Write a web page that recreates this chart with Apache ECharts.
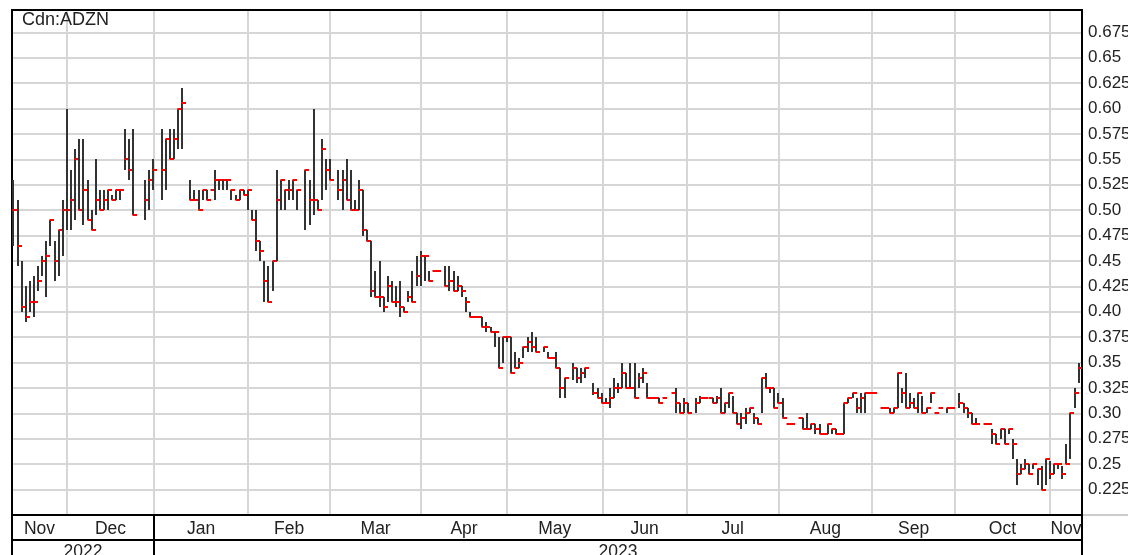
<!DOCTYPE html>
<html><head><meta charset="utf-8">
<script src="https://cdn.jsdelivr.net/npm/echarts@6/dist/echarts.min.js"></script>
<style>html,body{margin:0;padding:0;background:#fff;overflow:hidden}#c{width:1128px;height:555px}</style>
</head><body><div id="c"></div>
<script>
const chartTitle = 'Cdn:ADZN';
// one slot per weekday, 14 Nov 2022 (slot 0) .. 10 Nov 2023 (slot 259); null = no trade
const high = [
.53,.51,.45,.425,.43,.435,.445,.455,.47,.49,
.47,.48,.51,.60,.54,.56,.57,.57,.53,.50,
.55,.52,.52,.52,.515,.52,.52,.58,.57,.58,
null,null,.53,.54,.55,null,.58,.57,.58,.58,
.60,.62,null,.53,.52,.52,.52,.52,.52,.54,
.53,.53,.53,.52,.515,.52,.52,.52,.50,.50,
.47,.45,.445,.45,.54,.53,.52,.53,.53,.52,
null,.54,.53,.60,.51,.57,.55,.55,null,.54,
.54,.55,.54,.51,.53,.52,.48,.47,.44,.45,
.415,.435,.43,.425,.43,.405,.42,.44,.455,.46,
.455,.44,.44,.44,null,.445,.445,.44,.435,.425,
.415,.40,.395,.395,.395,.39,.385,.38,.375,.375,
.375,.375,.36,.355,.365,.375,.38,.375,null,.365,
.36,.355,.36,.345,.335,null,.35,.345,.345,.345,
null,.33,.325,.32,.315,.325,.335,.33,.35,.34,
.35,.35,.34,.345,.33,.315,.315,.315,.315,null,
.32,.325,.31,.315,.31,null,.315,.317,.315,.315,
.315,.317,.325,.31,.32,.317,.30,.30,.305,.305,
.30,.295,.335,.34,.325,.325,.32,.315,.29,.29,
null,.295,.295,.30,.29,.29,.29,.28,.29,.285,
.285,.28,.31,.315,.32,.315,.32,.32,.32,.32,
null,.305,.305,.305,.305,.34,.325,.34,.32,.315,
.32,.317,.305,.32,.30,.305,null,.305,.305,null,
.32,.31,.305,.30,.295,null,.29,.29,.285,.28,
.285,.285,.285,.275,.255,.25,.255,.25,.25,.245,
.248,.255,.253,.25,.25,.248,.27,.30,.325,.35
];
const low = [
.465,.445,.40,.39,.40,.395,.42,.435,.415,.465,
.43,.435,.455,.48,.48,.49,.50,.485,.49,.48,
.495,.50,.50,.50,.51,.51,.51,.54,.53,.495,
null,null,.49,.50,.52,null,.51,.52,.55,.55,
.56,.56,null,.51,.51,.50,.51,.51,.52,.51,
.52,.52,.52,.51,.51,.51,.515,.50,.49,.46,
.45,.41,.41,.42,.45,.50,.50,.51,.51,.50,
null,.48,.485,.495,.50,.51,.52,.53,null,.51,
.50,.51,.50,.50,.50,.475,.47,.415,.415,.405,
.40,.41,.41,.405,.395,.40,.41,.41,.425,.425,
.43,.43,.44,.44,null,.425,.42,.42,.42,.415,
.40,.395,.395,.395,.385,.38,.38,.365,.345,.35,
.37,.34,.345,.345,.355,.36,.36,.36,null,.36,
.355,.355,.345,.315,.315,null,.333,.33,.33,.335,
null,.318,.315,.31,.31,.305,.315,.32,.325,.325,
.325,.315,.325,.33,.315,.315,.315,.31,.315,null,
.32,.30,.30,.30,.30,null,.30,.31,.315,.315,
.31,.31,.30,.30,.305,.30,.29,.285,.29,.30,
.29,.29,.30,.325,.32,.305,.31,.295,.29,.29,
null,.295,.285,.285,.285,.28,.28,.28,.28,.28,
.28,.28,.28,.31,.315,.30,.30,.30,.32,.32,
null,.305,.305,.30,.30,.305,.31,.305,.305,.305,
.30,.30,.30,.31,.30,.305,null,.30,.305,null,
.305,.30,.295,.29,.29,null,.29,.29,.27,.27,
.275,.27,.28,.255,.23,.24,.245,.24,.245,.23,
.225,.23,.235,.24,.245,.235,.25,.255,.305,.33
];
const close = [
.50,.465,.405,.395,.41,.41,.43,.45,.455,.49,
.45,.48,.50,.50,.51,.55,.50,.52,.49,.48,
.51,.50,.51,.52,.51,.52,.52,.55,.54,.495,
null,null,.51,.53,.54,null,.54,.57,.55,.57,
.60,.605,null,.51,.51,.50,.52,.51,.52,.53,
.53,.53,.53,.52,.51,.52,.515,.52,.49,.47,
.46,.43,.41,.45,.51,.53,.52,.52,.53,.52,
null,.54,.51,.51,.50,.56,.54,.53,null,.52,
.53,.51,.50,.50,.52,.48,.47,.42,.415,.415,
.405,.425,.41,.41,.405,.40,.415,.41,.435,.455,
.455,.43,.44,.44,null,.425,.43,.42,.425,.42,
.41,.395,.395,.395,.385,.385,.38,.38,.345,.375,
.375,.34,.345,.35,.365,.37,.365,.36,null,.365,
.355,.355,.345,.325,.335,null,.345,.335,.34,.345,
null,.32,.315,.31,.31,.315,.325,.325,.34,.325,
.325,.315,.335,.34,.315,.315,.315,.31,.315,null,
.32,.31,.30,.31,.30,null,.31,.315,.315,.315,
.31,.315,.30,.31,.32,.30,.29,.295,.30,.305,
.295,.29,.335,.325,.325,.305,.31,.295,.29,.29,
null,.295,.285,.285,.29,.285,.28,.28,.29,.285,
.28,.28,.31,.315,.32,.305,.315,.32,.32,.32,
null,.305,.305,.30,.305,.34,.32,.305,.31,.305,
.32,.30,.305,.32,.30,.305,null,.305,.305,null,
.31,.305,.30,.29,.29,null,.29,.29,.28,.27,
.285,.27,.285,.27,.24,.245,.25,.24,.25,.245,
.225,.255,.24,.25,.25,.24,.25,.30,.32,.345
];
const monthNames = ['Nov','Dec','Jan','Feb','Mar','Apr','May','Jun','Jul','Aug','Sep','Oct','Nov'];
const monthStarts = [13, 34.2, 57, 77, 99.1, 120, 143.2, 163.7, 186, 208.8, 228.9, 252];
const yearNames = ['2022','2023'];
const yearStarts = [34.2];
const yMin = 0.2, yMax = 0.697, yStep = 0.025;

const xMin = -0.36, xMax = 259.8;
const data = [];
for (let i = 0; i < close.length; i++) {
  if (close[i] != null) data.push([i, high[i], low[i], close[i]]);
}
function mids(starts) {
  const e = [xMin].concat(starts, [xMax]);
  const m = [];
  for (let i = 0; i < e.length - 1; i++) m.push((e[i] + e[i + 1]) / 2);
  return m;
}
const monthMids = mids(monthStarts);
const yearMids = mids(yearStarts);
function nearestName(v, arr, names) {
  let b = 0;
  for (let i = 1; i < arr.length; i++) if (Math.abs(arr[i] - v) < Math.abs(arr[b] - v)) b = i;
  return names[b];
}
const FONT = 'Liberation Sans, Arial, sans-serif';
const chart = echarts.init(document.getElementById('c'), null, {renderer: 'canvas'});
chart.setOption({
  animation: false,
  backgroundColor: '#fff',
  title: {text: chartTitle, left: 22, top: 11, padding: 0,
    textStyle: {fontFamily: FONT, fontSize: 18, fontWeight: 'normal', color: '#222'}},
  grid: {left: 12, top: 10, width: 1070, height: 505, show: true, borderColor: '#000', borderWidth: 2,
    backgroundColor: 'transparent', containLabel: false, outerBoundsMode: 'none'},
  xAxis: [
    {type: 'value', gridIndex: 0, position: 'bottom', min: xMin, max: xMax,
      axisLine: {show: true, onZero: false, lineStyle: {color: '#000', width: 2}},
      axisTick: {show: true, customValues: [xMin, yearStarts[0], xMax], length: 40, lineStyle: {color: '#000', width: 2}},
      splitLine: {show: false},
      axisLabel: {show: true, customValues: monthMids, margin: 5, fontFamily: FONT, fontSize: 17.5, color: '#222',
        hideOverlap: false,
        formatter: v => nearestName(v, monthMids, monthNames)}},
    {type: 'value', gridIndex: 0, position: 'top', min: xMin, max: xMax,
      axisLine: {show: true, onZero: false, lineStyle: {color: '#000', width: 2}},
      axisTick: {show: false, customValues: monthStarts},
      axisLabel: {show: false},
      splitLine: {show: true, lineStyle: {color: '#d6d6d6', width: 2}}},
    {type: 'value', gridIndex: 0, position: 'bottom', offset: 25, min: xMin, max: xMax,
      axisLine: {show: true, onZero: false, lineStyle: {color: '#000', width: 2}},
      axisTick: {show: false},
      splitLine: {show: false},
      axisLabel: {show: true, customValues: yearMids, margin: 3, fontFamily: FONT, fontSize: 17.5, color: '#222',
        formatter: v => nearestName(v, yearMids, yearNames)}}
  ],
  yAxis: [
    {type: 'value', gridIndex: 0, position: 'right', min: yMin, max: yMax, interval: yStep,
      axisLine: {show: true, onZero: false, lineStyle: {color: '#000', width: 2}},
      axisTick: {show: false},
      splitLine: {show: true, lineStyle: {color: '#d6d6d6', width: 2}},
      axisLabel: {show: true, margin: 6, fontFamily: FONT, fontSize: 17, color: '#222',
        showMinLabel: false, showMaxLabel: false,
        formatter: v => {
          const r = Math.round(v * 1000);
          if (r % 25 !== 0 || r <= 200) return '';
          const s = (r / 1000).toFixed(3);
          return s.endsWith('0') ? s.slice(0, -1) : s;
        }}},
    {type: 'value', gridIndex: 0, position: 'left', min: yMin, max: yMax,
      axisLine: {show: true, onZero: false, lineStyle: {color: '#000', width: 2}},
      axisTick: {show: false}, axisLabel: {show: false}, splitLine: {show: false}}
  ],
  graphic: [{type: 'line', shape: {x1: 1083, y1: 515, x2: 1128, y2: 515}, style: {stroke: '#999', lineWidth: 1}}],
  series: [{
    type: 'custom', xAxisIndex: 0, yAxisIndex: 0, clip: true,
    data: data,
    encode: {x: 0, y: [1, 2, 3]},
    renderItem: function (params, api) {
      const x = api.value(0);
      const pH = api.coord([x, api.value(1)]);
      const pL = api.coord([x, api.value(2)]);
      const pC = api.coord([x, api.value(3)]);
      const px = Math.round(pH[0]);
      const children = [];
      if (pL[1] - pH[1] > 0.5) {
        children.push({type: 'line', shape: {x1: px, y1: Math.round(pH[1]), x2: px, y2: Math.round(pL[1])},
          style: {stroke: '#333', lineWidth: 2}});
      }
      const cy = Math.round(pC[1]);
      children.push({type: 'line', shape: {x1: px - 0.5, y1: cy, x2: px + 4, y2: cy},
        style: {stroke: '#ff0000', lineWidth: 2}});
      return {type: 'group', children: children};
    }
  }]
});
</script></body></html>
